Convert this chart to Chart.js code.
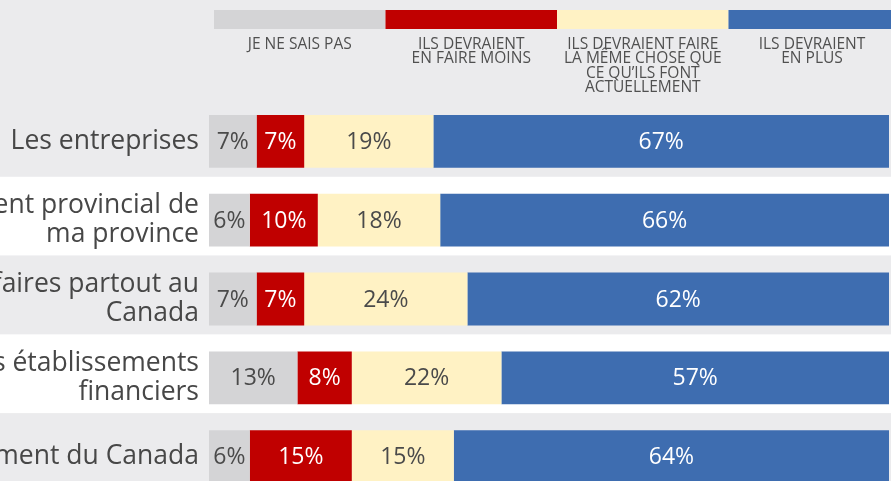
<!DOCTYPE html>
<html>
<head>
<meta charset="utf-8">
<script src="https://cdn.jsdelivr.net/npm/chart.js@4"></script>
<style>
  html, body { margin: 0; padding: 0; overflow: hidden; background: #eeeff1; }
  canvas { display: block; }
</style>
</head>
<body>
<canvas id="chart" width="891" height="500"></canvas>
<script>
// categories (left part of long labels is cut off by the frame)
let categories = [
    'Les entreprises',
    ['Le gouvernement provincial de', 'ma province'],
    ['Les gens d\u2019affaires partout au', 'Canada'],
    ['Les établissements', 'financiers'],
    'Le gouvernement du Canada'
];

// percent per answer
let dontKnow = [7, 6, 7, 13, 6];
let doLess   = [7, 10, 7, 8, 15];
let doSame   = [19, 18, 24, 22, 15];
let doMore   = [67, 66, 62, 57, 64];

let seriesNames = [
    ['JE NE SAIS PAS'],
    ['ILS DEVRAIENT', 'EN FAIRE MOINS'],
    ['ILS DEVRAIENT FAIRE', 'LA MÊME CHOSE QUE', 'CE QU\u2019ILS FONT', 'ACTUELLEMENT'],
    ['ILS DEVRAIENT', 'EN PLUS']
];
let seriesColors = ['#d4d4d6', '#c00000', '#fff2c4', '#3e6db0'];
let labelColors = ['#4a4a4a', '#ffffff', '#4a4a4a', '#ffffff'];

// alternating row bands behind the bars
const bandPlugin = {
    id: 'bands',
    beforeDraw(chart) {
        const ctx = chart.ctx;
        const y = chart.scales.y;
        ctx.save();
        ctx.fillStyle = '#eeeff1';
        ctx.fillRect(0, 0, chart.width, chart.height);
        const pitch = y.getPixelForValue(1) - y.getPixelForValue(0);
        categories.forEach((c, i) => {
            const cy = y.getPixelForValue(i);
            let top = cy - pitch / 2 - 4;
            if (i === 0) top = 0;
            ctx.fillStyle = i % 2 === 0 ? '#ebebed' : '#ffffff';
            ctx.fillRect(0, top, chart.width, cy + pitch / 2 - 4 - top);
        });
        ctx.restore();
    }
};

// value labels inside the segments
const valuePlugin = {
    id: 'values',
    afterDatasetsDraw(chart) {
        const ctx = chart.ctx;
        ctx.save();
        ctx.font = '23px "Open Sans"';
        ctx.textAlign = 'center';
        ctx.textBaseline = 'middle';
        chart.data.datasets.forEach((ds, di) => {
            const meta = chart.getDatasetMeta(di);
            meta.data.forEach((bar, i) => {
                ctx.fillStyle = labelColors[di];
                ctx.fillText(ds.data[i] + '%', (bar.x + bar.base) / 2, bar.y + 1);
            });
        });
        ctx.restore();
    }
};

// legend: colour strips with text under them
const legendPlugin = {
    id: 'stripLegend',
    afterDraw(chart) {
        const ctx = chart.ctx;
        ctx.save();
        const w = 171.5;
        seriesNames.forEach((lines, i) => {
            const x0 = 214 + i * w;
            ctx.fillStyle = seriesColors[i];
            ctx.fillRect(x0, 10, w, 19);
            ctx.fillStyle = '#505050';
            ctx.font = '16px "Open Sans"';
            ctx.textAlign = 'center';
            ctx.textBaseline = 'middle';
            let cx = x0 + w / 2;
            if (i === 3) cx = 812;
            lines.forEach((t, k) => {
                ctx.save();
                ctx.translate(cx, 44 + k * 14.6);
                ctx.scale(0.97, 1);
                ctx.fillText(t, 0, 0);
                ctx.restore();
            });
        });
        ctx.restore();
    }
};

const makeSet = (data, i) => ({
    label: seriesNames[i].join(' '),
    data: data,
    backgroundColor: seriesColors[i],
    borderWidth: 0,
    barPercentage: 1,
    categoryPercentage: 0.67
});

new Chart(document.getElementById('chart').getContext('2d'), {
    type: 'bar',
    data: {
        labels: categories,
        datasets: [makeSet(dontKnow, 0), makeSet(doLess, 1), makeSet(doSame, 2), makeSet(doMore, 3)]
    },
    options: {
        indexAxis: 'y',
        responsive: false,
        animation: false,
        // canvas is taller than the window: last row runs past the bottom edge
        layout: {padding: {top: 102, right: 2, bottom: 4, left: 0}},
        plugins: {legend: {display: false}, tooltip: {enabled: false}},
        scales: {
            x: {stacked: true, min: 0, max: 100, display: false},
            y: {
                stacked: true,
                grid: {display: false, drawTicks: false},
                border: {display: false},
                ticks: {font: {family: 'Open Sans', size: 26.5, lineHeight: 1.1}, color: '#474747', padding: 10},
                afterFit(s) {
                    s.width = 209;
                    s.paddingTop = 0;
                    s.paddingBottom = 0;
                }
            }
        }
    },
    plugins: [bandPlugin, valuePlugin, legendPlugin]
});
</script>
</body>
</html>
